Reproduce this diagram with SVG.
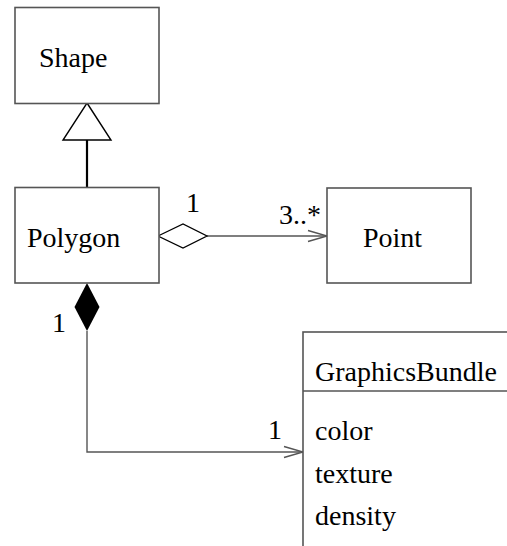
<svg xmlns="http://www.w3.org/2000/svg" width="507" height="546" viewBox="0 0 507 546">
  <style>
    .box { fill: #fff; stroke: #555; stroke-width: 1.6; }
    .label { font-family: "Liberation Serif", "Times New Roman", serif; font-size: 28px; fill: #000; }
    .link { fill: none; stroke: #555; stroke-width: 1.4; }
  </style>
  <rect width="507" height="546" fill="#fff"/>

  <g id="connectors">
    <!-- generalization: Polygon -> Shape -->
    <line x1="87" y1="140" x2="87" y2="188" stroke="#000" stroke-width="2.2"/>
    <polygon points="87,103 111,140 63,140" fill="#fff" stroke="#000" stroke-width="1.4"/>
    <!-- aggregation: Polygon <>-> Point -->
    <line class="link" x1="207" y1="236" x2="327" y2="236"/>
    <polygon points="158,236 183,224 207,236 183,248" fill="#fff" stroke="#000" stroke-width="1.3"/>
    <polyline class="link" points="308,230.5 327,236 308,241.5"/>
    <text class="label" x="186" y="212">1</text>
    <text class="label" x="279" y="224">3..*</text>
    <!-- composition: Polygon <#>-> GraphicsBundle -->
    <polyline class="link" points="87,331 87,452 303,452"/>
    <polygon points="87,283 99.5,307 87,331 74.5,307" fill="#000"/>
    <polyline class="link" points="284,446.5 303,452 284,457.5"/>
    <text class="label" x="52" y="332">1</text>
    <text class="label" x="268" y="439">1</text>
  </g>

  <g id="shape">
    <rect class="box" x="15" y="7.5" width="144" height="96"/>
    <text class="label" x="39" y="67">Shape</text>
  </g>

  <g id="polygon">
    <rect class="box" x="15" y="187.5" width="144" height="95.5"/>
    <text class="label" x="27" y="247">Polygon</text>
  </g>

  <g id="point">
    <rect class="box" x="327" y="188" width="144" height="95"/>
    <text class="label" x="363" y="247">Point</text>
  </g>

  <g id="graphicsbundle">
    <rect class="box" x="303" y="332" width="230" height="240"/>
    <line x1="303" y1="391" x2="533" y2="391" stroke="#555" stroke-width="1.6"/>
    <text class="label" x="315" y="381">GraphicsBundle</text>
    <text class="label" x="315" y="440">color</text>
    <text class="label" x="315" y="483">texture</text>
    <text class="label" x="315" y="525">density</text>
  </g>
</svg>
